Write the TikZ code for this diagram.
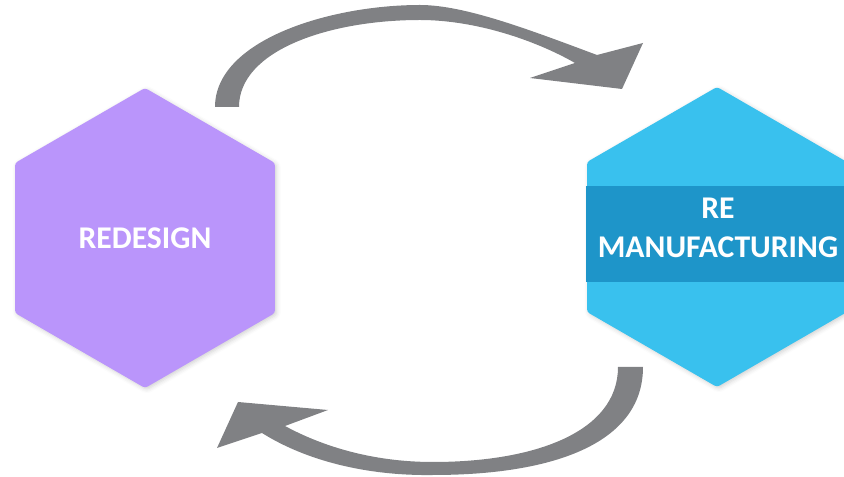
\documentclass[tikz,border=0pt]{standalone}
\usepackage{fontspec}
\setmainfont{Carlito}
\usetikzlibrary{shapes.geometric,shadows.blur}

\definecolor{lilac}{HTML}{BA95FB}
\definecolor{skyblue}{HTML}{39C1EE}
\definecolor{bandblue}{HTML}{1E95C9}
\definecolor{arrowgrey}{HTML}{808184}

\begin{document}
\begin{tikzpicture}[x=0.025cm,y=-0.025cm,
    hexa/.style={regular polygon,regular polygon sides=6,shape border rotate=30,
      minimum size=7.5cm,inner sep=0pt,rounded corners=2pt,
      blur shadow={shadow xshift=1.2pt,shadow yshift=-1.2pt,shadow opacity=18,shadow blur radius=3pt}},
    hexlabel/.style={text=white,font=\fontsize{22.5}{27.7}\selectfont\bfseries,align=center},
    cycarrow/.style={fill=arrowgrey}]
    \clip (0,0) rectangle (844,477);
    % Hexagons
    \node (redesign) at (145,238) [hexa,fill=lilac] {};
    \node (remfg) at (717,237) [hexa,fill=skyblue] {};
    % Band across the right one
    \fill[bandblue] (586,186) rectangle (850,282);
    % Labels
    \node (redesigntext) at (redesign.center) [hexlabel] {REDESIGN};
    \node (remfgtext) at (718,228) [hexlabel] {RE\\MANUFACTURING};
    % Upper arrow, left to right
    \fill[cycarrow] (215,107) .. controls (215,40) and (330,5) .. (420,5)
        .. controls (465,5) and (530,30) .. (597,55)
        -- (643,43) -- (622,89) -- (530,78) -- (575,63)
        .. controls (535,40) and (475,20) .. (420,20)
        .. controls (330,20) and (239,50) .. (239,107) -- cycle;
    % Lower arrow, right to left
    \fill[cycarrow] (618,367) -- (643,367) .. controls (643,445) and (550,475) .. (433,475)
        .. controls (365,476) and (305,460) .. (262,433)
        -- (217,448) -- (238,402) -- (328,410) -- (285,426)
        .. controls (320,445) and (370,462) .. (433,462)
        .. controls (535,462) and (618,432) .. (618,367) -- cycle;
\end{tikzpicture}
\end{document}
